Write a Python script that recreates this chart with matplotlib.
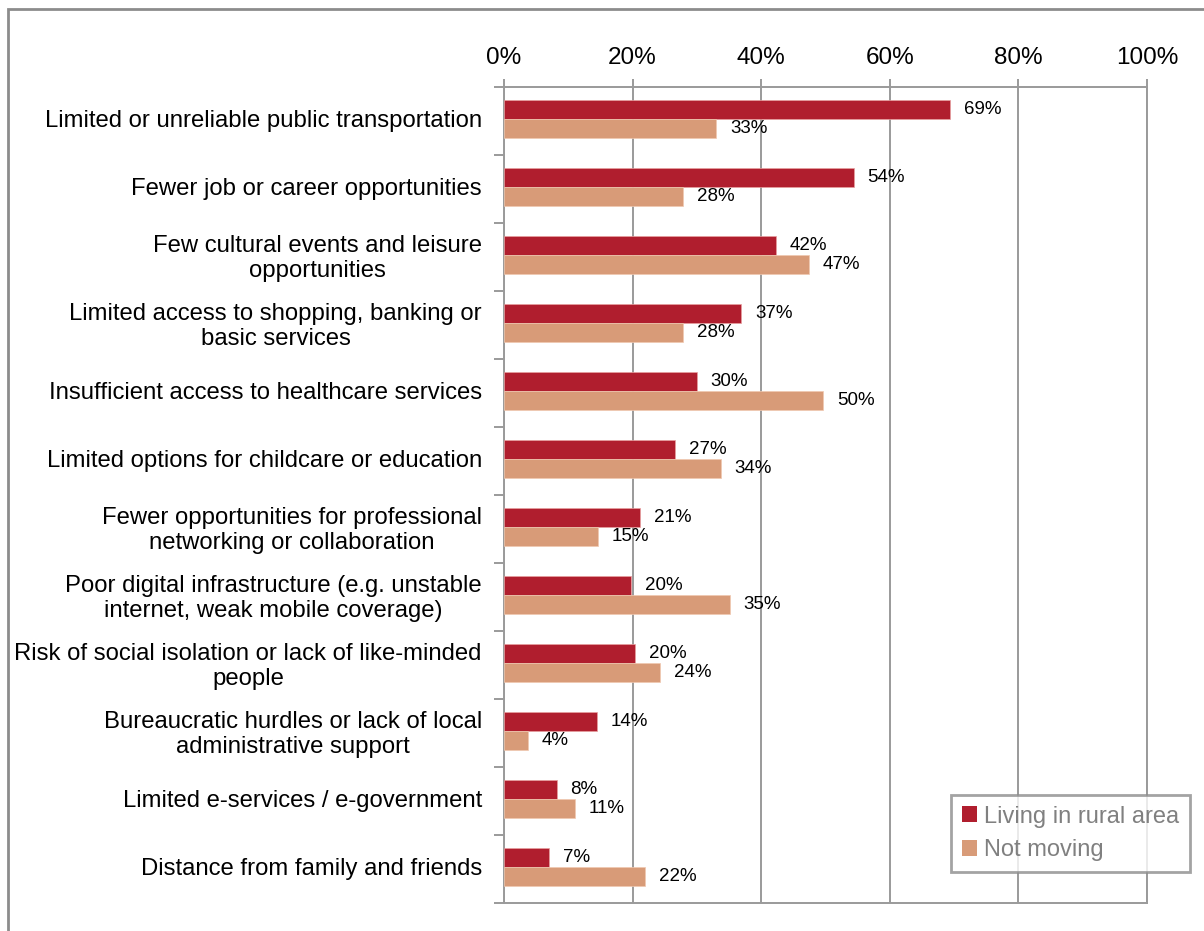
import matplotlib
matplotlib.use("Agg")
import matplotlib.pyplot as plt
from matplotlib.patches import Rectangle, Patch
import numpy as np

plt.rcParams['font.family'] = ['Liberation Sans', 'DejaVu Sans']

categories = [
    "Limited or unreliable public transportation",
    "Fewer job or career opportunities",
    "Few cultural events and leisure\nopportunities",
    "Limited access to shopping, banking or\nbasic services",
    "Insufficient access to healthcare services",
    "Limited options for childcare or education",
    "Fewer opportunities for professional\nnetworking or collaboration",
    "Poor digital infrastructure (e.g. unstable\ninternet, weak mobile coverage)",
    "Risk of social isolation or lack of like-minded\npeople",
    "Bureaucratic hurdles or lack of local\nadministrative support",
    "Limited e-services / e-government",
    "Distance from family and friends",
]
rural = [69.4, 54.4, 42.3, 36.9, 30.0, 26.6, 21.2, 19.8, 20.4, 14.4, 8.2, 7.0]
not_moving = [33.0, 27.8, 47.4, 27.8, 49.6, 33.7, 14.6, 35.1, 24.3, 3.7, 11.0, 21.9]
series_names = ["Living in rural area", "Not moving"]
xticks = [0, 20, 40, 60, 80, 100]

red = "#B01E2E"
peach = "#D89B78"
grey = "#9A9A9A"

fig = plt.figure(figsize=(12.04, 9.31), dpi=100)
ax = fig.add_axes([504/1204, 1-903/931, (1147-504)/1204, (903-87)/931])

n = len(categories)
y = np.arange(n)
h = 0.28
off = -0.03  # bar pair sits a touch above the category centre
ax.barh(y - h/2 + off, rural, height=h, color=red, edgecolor="#E8A0A0", linewidth=0.5, zorder=3)
ax.barh(y + h/2 + off, not_moving, height=h, color=peach, edgecolor="#F0C8B0", linewidth=0.5, zorder=3)

for yi, v in zip(y, rural):
    ax.annotate(f"{v:.0f}%", (v, yi - h/2 + off), xytext=(10, 0), textcoords="offset points",
                ha="left", va="center", fontsize=13.5, color="black", zorder=4)
for yi, v in zip(y, not_moving):
    ax.annotate(f"{v:.0f}%", (v, yi + h/2 + off), xytext=(10, 0), textcoords="offset points",
                ha="left", va="center", fontsize=13.5, color="black", zorder=4)

ax.set_xlim(0, 100)
ax.set_ylim(n - 0.5, -0.5)
ax.xaxis.tick_top()
ax.set_xticks(xticks)
ax.set_xticklabels([f"{t}%" for t in xticks], fontsize=17.5)
ax.tick_params(axis="x", which="major", direction="out", length=6, width=1.4, color=grey, pad=7)
ax.grid(axis="x", color=grey, linewidth=1.4, zorder=0)

ax.set_yticks(y - 0.04)
ax.set_yticklabels(categories, fontsize=17.2, multialignment="center")
ax.tick_params(axis="y", which="major", length=0, pad=16)
ax.set_yticks(np.arange(n + 1) - 0.5, minor=True)
ax.tick_params(axis="y", which="minor", direction="out", length=7, width=1.4, color=grey)

for s in ax.spines.values():
    s.set_color(grey)
    s.set_linewidth(1.4)

handles = [Patch(facecolor=red), Patch(facecolor=peach)]
leg = fig.legend(handles, series_names, loc="upper left",
                 bbox_to_anchor=(951/1204, 1-795/931), borderaxespad=0, fontsize=17,
                 frameon=True, fancybox=False, edgecolor="#8C8C8C",
                 handlelength=0.65, handleheight=0.65, handletextpad=0.3,
                 labelspacing=0.5, borderpad=0.45)
leg.get_frame().set_linewidth(2)
for t in leg.get_texts():
    t.set_color("#808080")

# outer chart border (runs past the right and bottom edges)
fig.patches.append(Rectangle((8/1204, -0.1), 1.2, 1-9/931 + 0.1, transform=fig.transFigure,
                             fill=False, edgecolor="#8C8C8C", linewidth=2))

fig.savefig("out.png", dpi=100)
